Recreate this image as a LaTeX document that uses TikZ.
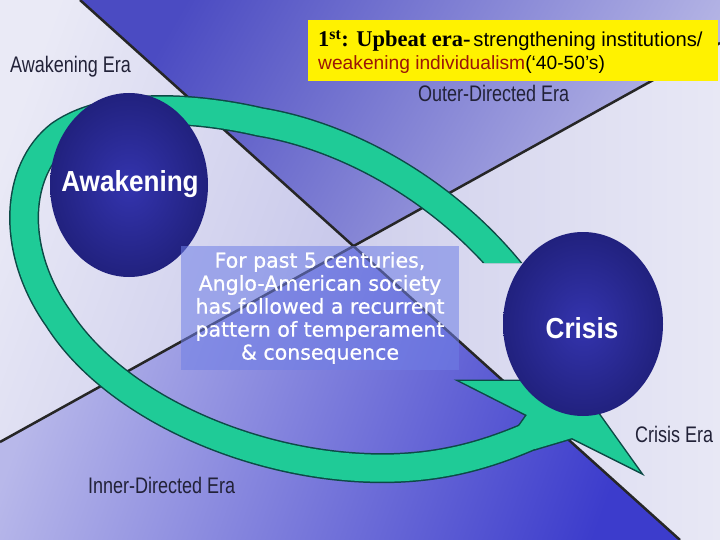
\documentclass[tikz,border=0pt]{standalone}
\usepackage{fontspec}
\setmainfont{Liberation Sans}
\newfontfamily\erafont[FakeStretch=0.8]{Liberation Sans}
\newfontfamily\circfont[FakeStretch=0.9]{Liberation Sans}
\newfontfamily\notefont[FakeBold=0.8]{DejaVu Sans}
\newfontfamily\serffont{Liberation Serif}
\usetikzlibrary{shapes.geometric}
\definecolor{bgleftA}{HTML}{EAEAF6}
\definecolor{bgleftB}{HTML}{C6C6EA}
\definecolor{topdark}{HTML}{4B4BC2}
\definecolor{toplight}{HTML}{B8B8E6}
\definecolor{rightA}{HTML}{E8E8F5}
\definecolor{rightB}{HTML}{D0D0EC}
\definecolor{botlight}{HTML}{B8B8EA}
\definecolor{botdark}{HTML}{3C3CCC}
\definecolor{bandgreen}{HTML}{1FCB97}
\definecolor{bandedge}{HTML}{0D4A46}
\definecolor{navyin}{HTML}{3434AE}
\definecolor{navyout}{HTML}{21217E}
\definecolor{eratext}{HTML}{222238}
\definecolor{notefill}{HTML}{6F7FE6}
\definecolor{wred}{HTML}{9A1608}
\begin{document}
\begin{tikzpicture}[x=1pt,y=-1pt,
  eralabel/.style={anchor=base west, inner sep=0, text=eratext, font=\erafont\fontsize{22.5}{24}\selectfont},
  ball/.style={ellipse, inner sep=0, minimum width=158, minimum height=184, inner color=navyin, outer color=navyout},
  balltext/.style={anchor=base, inner sep=0, text=white, font=\circfont\bfseries\fontsize{29}{30}\selectfont},
  divider/.style={line width=2.5, black!85}]
\useasboundingbox (0,0) rectangle (720,540);
% background regions
\coordinate (I) at (353.5,246.2);
\coordinate (A1) at (80,0);
\coordinate (A2) at (680,540);
\coordinate (B1) at (0,442);
\coordinate (B2) at (720,43);
\fill[rightA] (0,0) rectangle (720,540);
\shade[left color=bgleftA, right color=bgleftB, shading angle=70] (0,0) -- (A1) -- (I) -- (B1) -- cycle;
\shade[left color=topdark, right color=toplight, shading angle=60] (A1) -- (720,0) -- (B2) -- (I) -- cycle;
\shade[left color=rightB, right color=rightA, shading angle=90] (B2) -- (I) -- (A2) -- (720,540) -- cycle;
\shade[left color=botlight, right color=botdark, shading angle=70] (B1) -- (I) -- (A2) -- (0,540) -- cycle;
\draw[divider] (A1) -- (A2);
\draw[divider] (B1) -- (B2);
% cycle arrow
\begin{scope}
\clip (0,0) -- (720,0) -- (720,263) -- (450,263) -- (450,350) -- (720,350) -- (720,540) -- (0,540) -- cycle;
\filldraw[bandedge, line width=3] (460,381) -- (575,381) -- (640,472) -- (572,438) -- (535,449) -- (515,432) -- (527,415) -- cycle;
\draw[bandedge, line width=30] (512,274) .. controls (440,185) and (340,135) .. (260,122)
  .. controls (200,108) and (110,100) .. (60,135)
  .. controls (15,170) and (10,250) .. (58,318)
  .. controls (110,400) and (230,455) .. (340,466)
  .. controls (430,475) and (490,455) .. (548,428);
\draw[bandgreen, line width=27] (512,274) .. controls (440,185) and (340,135) .. (260,122)
  .. controls (200,108) and (110,100) .. (60,135)
  .. controls (15,170) and (10,250) .. (58,318)
  .. controls (110,400) and (230,455) .. (340,466)
  .. controls (430,475) and (490,455) .. (548,428);
\fill[bandgreen] (460,381) -- (575,381) -- (640,472) -- (572,438) -- (535,449) -- (515,432) -- (527,415) -- cycle;
\end{scope}
% circles
\node[ball] (awak) at (129,185) {};
\node[balltext] (awakt) at (130,192) {Awakening};
\node[ball, minimum width=160] (crisis) at (583,324) {};
\node[balltext] (crisist) at (582,338) {Crisis};
% note box
\node[fill=notefill, fill opacity=0.55, text opacity=1, text=white, align=center,
  minimum width=278, minimum height=124, inner sep=0,
  font=\notefont\fontsize{20.5}{23}\selectfont] (note) at (320,308)
  {For past 5 centuries,\\Anglo-American society\\has followed a recurrent\\pattern of temperament\\\& consequence};
% era labels
\node[eralabel] (l-awak) at (10,73) {Awakening Era};
\node[eralabel] (l-outer) at (418,102) {Outer-Directed Era};
\node[eralabel] (l-crisis) at (635,442) {Crisis Era};
\node[eralabel] (l-inner) at (88,493) {Inner-Directed Era};
% yellow title box
\node[fill=yellow, anchor=north west, minimum width=410, minimum height=61, inner sep=0] (ybox) at (308,20) {};
\node[anchor=base west, inner sep=0] (t1) at (318,47)
  {{\serffont\bfseries\fontsize{22.5}{24}\selectfont 1\textsuperscript{st}: Upbeat era-} {\fontsize{20.2}{22}\selectfont strengthening institutions/}};
\node[anchor=base west, inner sep=0] (t2) at (318,70)
  {\fontsize{19.2}{22}\selectfont\textcolor{wred}{weakening individualism}(‘40-50’s)};
\end{tikzpicture}
\end{document}
